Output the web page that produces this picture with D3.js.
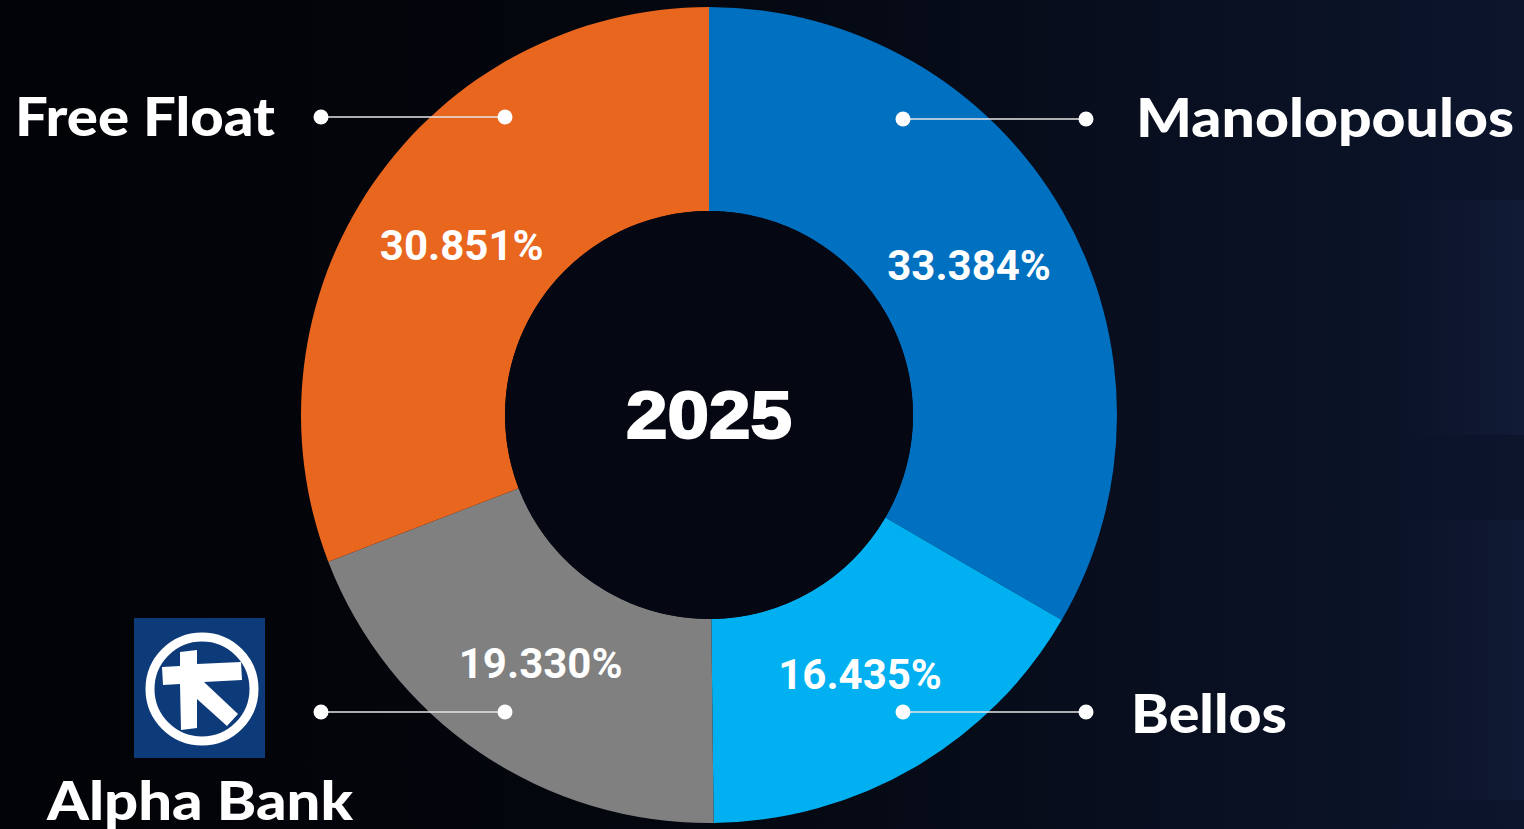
<!DOCTYPE html>
<html>
<head>
<meta charset="utf-8">
<script src="https://cdn.jsdelivr.net/npm/d3@7"></script>
<style>
  html, body { margin: 0; padding: 0; background: #04060b; overflow: hidden; }
  svg { display: block; }
</style>
</head>
<body>
<div id="chart"></div>
<script>
// shareholder data
const holders = ['Manolopoulos', 'Bellos', 'Alpha Bank', 'Free Float']
const shares = [33.384, 16.435, 19.330, 30.851]
const colors = ['#0070c0', '#00b0f0', '#808080', '#e9661f']
const yearLabel = '2025'

const W = 1524
const H = 829
const cx = 709
const cy = 415
const outerR = 408
const innerR = 204

const svg = d3.select('#chart').append('svg')
  .attr('width', W)
  .attr('height', H)

const defs = svg.append('defs')
const bg = defs.append('linearGradient').attr('id', 'bg')
  .attr('x1', '0%').attr('x2', '100%').attr('y1', '0%').attr('y2', '0%')
bg.append('stop').attr('offset', '0%').attr('stop-color', '#020306')
bg.append('stop').attr('offset', '45%').attr('stop-color', '#04070f')
bg.append('stop').attr('offset', '100%').attr('stop-color', '#0c152c')

const glow = defs.append('linearGradient').attr('id', 'glow')
  .attr('x1', '0%').attr('x2', '100%')
glow.append('stop').attr('offset', '0%').attr('stop-color', '#1a2748').attr('stop-opacity', 0)
glow.append('stop').attr('offset', '100%').attr('stop-color', '#1c2a4d').attr('stop-opacity', 0.8)

svg.append('rect').attr('width', W).attr('height', H).attr('fill', 'url(#bg)')
svg.append('rect').attr('x', 1400).attr('y', 200).attr('width', 124).attr('height', 235).attr('fill', 'url(#glow)').attr('opacity', 0.35)
svg.append('rect').attr('x', 1400).attr('y', 520).attr('width', 124).attr('height', 280).attr('fill', 'url(#glow)').attr('opacity', 0.3)

const pie = d3.pie().sort(null).value(d => d)
const arcs = pie(shares)
const arc = d3.arc().innerRadius(innerR).outerRadius(outerR)
const labelArc = d3.arc().innerRadius(300).outerRadius(300)

const g = svg.append('g').attr('transform', 'translate(' + cx + ',' + cy + ')')

g.selectAll('.slice')
  .data(arcs)
  .enter()
  .append('path')
  .attr('class', 'slice')
  .attr('d', arc)
  .attr('fill', (d, i) => colors[i])

g.append('circle').attr('r', innerR).attr('fill', '#050813')

g.selectAll('.pct')
  .data(arcs)
  .enter()
  .append('text')
  .attr('class', 'pct')
  .attr('transform', d => {
    let c = labelArc.centroid(d)
    return 'translate(' + c[0] + ',' + (c[1] + 15) + ')'
  })
  .attr('text-anchor', 'middle')
  .attr('fill', '#fff')
  .attr('font-family', 'Roboto, sans-serif')
  .attr('font-weight', 700)
  .attr('font-size', 42)
  .text(d => d3.format('.3f')(d.data) + '%')

g.append('text')
  .attr('y', 23)
  .attr('text-anchor', 'middle')
  .attr('fill', '#fff')
  .attr('stroke', '#fff')
  .attr('stroke-width', 2)
  .attr('font-family', 'Liberation Sans, Arial, sans-serif')
  .attr('font-weight', 700)
  .attr('font-size', 66)
  .attr('textLength', 166)
  .attr('lengthAdjust', 'spacingAndGlyphs')
  .text(yearLabel)

// leader lines: right side for first two, left side for the others
const leaderY = [119, 712, 712, 117]
const side = [1, 1, -1, -1]
const leaders = svg.append('g')
holders.forEach((h, i) => {
  let x0 = side[i] > 0 ? cx + 194 : cx - 204
  let x1 = side[i] > 0 ? cx + 377 : cx - 388
  leaders.append('line')
    .attr('x1', x0).attr('x2', x1)
    .attr('y1', leaderY[i]).attr('y2', leaderY[i])
    .attr('stroke', '#e6e6e6').attr('stroke-width', 1.5)
  leaders.append('circle').attr('cx', x0).attr('cy', leaderY[i]).attr('r', 7.5).attr('fill', '#fff')
  leaders.append('circle').attr('cx', x1).attr('cy', leaderY[i]).attr('r', 7.5).attr('fill', '#fff')
})

// names
const nameX = [1136, 1131, 47, 15]
const nameY = [137, 733, 820, 136]
const nameW = [378, 156, 306, 260]
svg.selectAll('.name')
  .data(holders)
  .enter()
  .append('text')
  .attr('class', 'name')
  .attr('x', (d, i) => nameX[i])
  .attr('y', (d, i) => nameY[i])
  .attr('fill', '#fff')
  .attr('font-family', 'Lato, sans-serif')
  .attr('font-weight', 900)
  .attr('font-size', 54)
  .attr('textLength', (d, i) => nameW[i])
  .attr('lengthAdjust', 'spacingAndGlyphs')
  .text(d => d)

// alpha bank logo
const logo = svg.append('g').attr('transform', 'translate(134,618)')
logo.append('rect').attr('width', 131).attr('height', 140).attr('fill', '#0d3b7a')
logo.append('circle').attr('cx', 68).attr('cy', 71).attr('r', 52)
  .attr('fill', 'none').attr('stroke', '#fff').attr('stroke-width', 9)
logo.append('path')
  .attr('d', 'M46,34 L63,32 L63,46 L107,44 L108,62 L70,64 L104,96 L93,108 L63,81 L63,110 L47,112 L46,66 L29,67 L28,49 L46,48 Z')
  .attr('fill', '#fff')
</script>
</body>
</html>
